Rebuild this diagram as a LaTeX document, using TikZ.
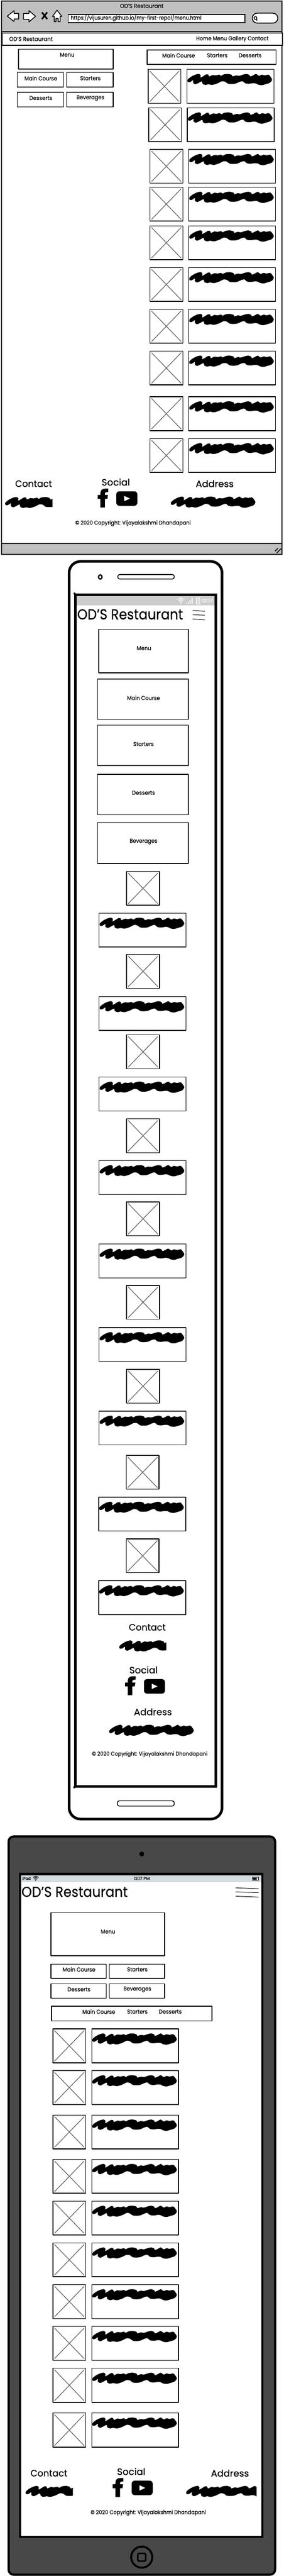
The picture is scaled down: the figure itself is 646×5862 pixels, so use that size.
\documentclass[tikz,border=0pt]{standalone}
\usepackage{graphicx}
\usepackage{fontspec}
\setmainfont{Poppins}[FakeBold=0.3]
\definecolor{chrome}{HTML}{C0C0C0}
\definecolor{xgrey}{HTML}{666666}
\definecolor{phonebar}{HTML}{CCCCCC}
\definecolor{padbar}{HTML}{D5DCDF}
\definecolor{padbody}{HTML}{484848}
\tikzset{
  x=1pt,y=-1pt,
  boxline/.style={draw=black,line width=1.7pt,fill=white,line join=round},
  thinbox/.style={draw=black,line width=1.3pt,fill=white,line join=round},
  xline/.style={draw=xgrey,line width=1.5pt,line cap=round},
  txtnode/.style={inner sep=0pt,outer sep=0pt,anchor=center},
  burger/.style={draw=black,line width=1.2pt,line cap=round},
  iconline/.style={draw=black,line width=1.8pt,fill=white,line join=round}
}
% text: name, cx, cy, width, font size, text
\newcommand{\TX}[6]{\node[txtnode] (#1) at (#2,#3) {\resizebox{#4pt}{\height}{\fontsize{#5pt}{#5pt}\selectfont #6}};}
\newcommand{\ScribShape}{\fill[black] plot[smooth cycle,tension=.55] coordinates {
 (22,95)(45,75)(75,60)(100,55)(112,65)(110,80)(130,70)(150,58)(165,60)(170,72)(195,62)(215,65)(240,60)(250,68)(270,58)(300,55)(325,62)(330,72)(355,65)(375,68)(400,60)(425,55)(445,62)(450,72)(470,65)(490,55)(510,68)(530,60)(550,65)(575,60)(590,75)(600,95)(585,115)(555,125)(530,132)(505,128)(490,120)(470,118)(440,122)(415,118)(400,105)(380,108)(345,122)(300,122)(280,108)(255,105)(230,118)(190,130)(165,125)(145,130)(125,122)(120,105)(100,115)(75,125)(60,115)(60,98)(40,110)(25,110)};}
\newcommand{\Scrib}[2]{\begin{scope}[shift={(#1,#2)},xscale=.3333,yscale=.3333,shift={(-22,-55)}]\ScribShape\end{scope}}
\newcommand{\ImgBox}[4]{\begin{scope}[shift={(#1,#2)}]
 \draw[boxline] (0,0) rectangle (#3,#4);
 \draw[xline] (4,4) -- (#3-4,#4-4);
 \draw[xline] (#3-4,4) -- (4,#4-4);
\end{scope}}
\newcommand{\TxtBox}[4]{\draw[boxline] (#1,#2) rectangle ++(#3,#4);\Scrib{#1+1.3}{#2+10.3}}
\newcommand{\FaceF}[2]{\begin{scope}[shift={(#1,#2)}]
 \fill[black] (6.2,43) -- (6.2,23.3) -- (0,23.3) -- (0,14.3) -- (6.2,14.3) -- (6.2,10) .. controls (6.2,3) and (11,0) .. (17,0) -- (24,0) -- (24,8) -- (20,8) .. controls (17,8) and (16.5,9.5) .. (16.5,12) -- (16.5,14.3) -- (23.5,14.3) -- (22,23.3) -- (16.5,23.3) -- (16.5,43) -- cycle;
\end{scope}}
\newcommand{\YouT}[2]{\begin{scope}[shift={(#1,#2)}]
 \fill[black,rounded corners=7pt] (0,0) rectangle (48,33);
 \fill[white] (18,10.5) -- (31,16.5) -- (18,22.5) -- cycle;
\end{scope}}
\newcommand{\Wifi}[5]{\begin{scope}[shift={(#1,#2)}]
 \fill[#4] (0,0) circle (#5*1pt);
 \foreach \r in {.36,.68,1}{\draw[#4,line width=#5*1pt] (-\r*#3,-\r*#3) .. controls (0,-\r*#3*1.6) .. (\r*#3,-\r*#3);}
\end{scope}}
\begin{document}
\begin{tikzpicture}
\useasboundingbox (0,0) rectangle (646,5862);
\fill[white] (0,0) rectangle (646,5862);

%%%%%%%% DESKTOP BROWSER %%%%%%%%
\draw[draw=black,line width=2.4pt,fill=white] (3,2.5) rectangle (643,1261);
\draw[draw=black,line width=2.4pt,fill=chrome] (3,2.5) rectangle (643,72);
\draw[draw=black,line width=2.4pt,fill=chrome] (3,1237) rectangle (643,1261);
\draw[black,line width=2pt,line cap=round] (627,1254) -- (633,1248) (631,1258) -- (640,1249);
\TX{bTitle}{323}{13.5}{99}{13}{OD'S Restaurant}
\draw[iconline] (16.5,36.7) -- (32,24.3) -- (32,30.7) -- (42.5,30.7) -- (42.5,43.3) -- (32,43.3) -- (32,49) -- cycle;
\draw[iconline] (81,37) -- (66,24.3) -- (66,30.7) -- (53.6,30.7) -- (53.6,44) -- (66,44) -- (66,50) -- cycle;
\draw[black,line width=3.6pt] (95.5,28) -- (107.5,43.5) (107.5,28) -- (95.5,43.5);
\draw[iconline] (130,23.3) -- (119.5,37.3) -- (123.7,37.3) -- (123.7,49.3) -- (127.5,49.3) -- (127.5,42) -- (132.5,42) -- (132.5,49.3) -- (137,49.3) -- (137,37.3) -- (141,37.3) -- cycle;
\draw[draw=black,line width=2pt,fill=white] (155.5,32.5) rectangle (558,51.5);
\TX{bUrl}{310}{40.5}{298}{13}{https://vijusuren.github.io/my-first-repo1/menu.html}
\draw[draw=black,line width=2pt,fill=white,rounded corners=11pt] (575,30) rectangle (633,52.5);
\draw[black,line width=1.8pt] (582,41) circle (3.3pt);
\draw[black,line width=2pt] (584.3,44) -- (586,47);
\draw[draw=black,line width=2pt,fill=white] (4.5,75) rectangle (644,103);
\TX{bBrand}{70.5}{88.7}{99}{13}{OD'S Restaurant}
\TX{bNav}{529.5}{88.7}{165}{13}{Home Menu Gallery Contact}

\draw[boxline] (42,112) rectangle (258,157);
\TX{dMenu}{153}{124.5}{33}{13}{Menu}
\draw[boxline] (39,165) rectangle (145,198);
\TX{dMain}{93}{178}{74.6}{13}{Main Course}
\draw[boxline] (152,165) rectangle (258,198);
\TX{dStart}{206}{178}{46.6}{13}{Starters}
\draw[boxline] (39,210) rectangle (145,243);
\TX{dDess}{93}{223}{52.4}{13}{Desserts}
\draw[boxline] (152,210) rectangle (258,243);
\TX{dBev}{206}{223}{63}{13}{Beverages}
\draw[boxline] (335.5,113.5) rectangle (629,146.5);
\TX{dTabA}{407}{126}{74.6}{13}{Main Course}
\TX{dTabB}{495}{126}{46.6}{13}{Starters}
\TX{dTabC}{570}{126}{52.4}{13}{Desserts}

\ImgBox{337.5}{158}{74.5}{77}\TxtBox{426}{158}{198}{77}
\ImgBox{339}{245.5}{74.5}{77}\TxtBox{427}{245.5}{198}{77}
\foreach \ry in {340,426,514,609,704,799,903,998}{
  \ImgBox{341.5}{\ry}{75}{77}\TxtBox{430}{\ry}{198}{77}
}
\TX{dCont}{76.6}{1100.7}{84}{21}{Contact}
\begin{scope}\clip (10,1125) rectangle (119.5,1162);\Scrib{12}{1131}\end{scope}
\TX{dSoc}{263.8}{1097}{64.5}{21}{Social}
\FaceF{222.6}{1112}
\YouT{265}{1118}
\TX{dAddr}{489.3}{1100.7}{86.6}{21}{Address}
\Scrib{389.5}{1130}
\TX{dCopy}{303}{1190.7}{263}{12.5}{© 2020 Copyright: Vijayalakshmi Dhandapani}

%%%%%%%% PHONE %%%%%%%%
\draw[draw=black,line width=6pt,fill=white,rounded corners=26pt] (157.5,1277.5) rectangle (506,4139.5);
\draw[draw=black,line width=1.8pt,fill=white,rounded corners=4pt] (268.5,1307.5) rectangle (397,1317.5);
\draw[black,line width=3pt] (228.5,1313) ellipse (4pt and 4.8pt);
\draw[draw=black,line width=6.5pt,fill=white] (171.5,1353.5) rectangle (492,4065.5);
\fill[black] (170,1351) circle (2.6pt) (169.5,4067) circle (2.6pt);
\fill[phonebar] (175,1357) rectangle (489,1377);
\Wifi{412}{1372.5}{8}{white}{1.4}
\fill[white] (424,1372) rectangle (426,1374) (428,1370) rectangle (430,1374) (432,1366) rectangle (434.2,1374) (436.5,1361) rectangle (439,1374);
\draw[white,line width=1.2pt,fill=phonebar!70!white] (447,1361) rectangle (455,1375);
\TX{pTime}{472.5}{1366.7}{25}{11}{\textcolor{white}{12:17}}
\TX{pTitle}{296.5}{1398}{241}{33}{OD'S Restaurant}
\draw[burger] (439.5,1389) -- (466.5,1391);
\draw[burger] (439.5,1399) -- (466.5,1400);
\draw[burger] (439.5,1408.5) -- (466.5,1410.5);

\draw[boxline] (225,1432) rectangle (429,1531);
\TX{pMenu}{328}{1475}{33}{13}{Menu}
\draw[boxline] (222,1545) rectangle (429,1637);
\TX{pMain}{327}{1588}{74.6}{13}{Main Course}
\draw[boxline] (222,1650) rectangle (429,1742);
\TX{pStart}{327}{1693}{46.6}{13}{Starters}
\draw[boxline] (222,1762) rectangle (429,1854);
\TX{pDess}{327}{1804}{52.4}{13}{Desserts}
\draw[boxline] (222,1872) rectangle (429,1965);
\TX{pBev}{327}{1915}{63}{13}{Beverages}
\foreach \iy/\ty in {1983/2078,2172/2268,2355/2451,2546/2641,2735/2831,2925/3021,3116/3211}{
  \ImgBox{288.5}{\iy}{75}{77}\TxtBox{226}{\ty}{198}{77}
}
\foreach \iy/\ty in {3312/3407,3502/3597}{
  \ImgBox{287.5}{\iy}{75}{77}\TxtBox{225}{\ty}{198}{77}
}
\TX{pCont}{335.5}{3703}{84}{21}{Contact}
\begin{scope}\clip (270,3725) rectangle (379,3765);\Scrib{272}{3733}\end{scope}
\TX{pSoc}{327}{3800}{64.5}{21}{Social}
\FaceF{285}{3814.5}
\YouT{328}{3821}
\TX{pAddr}{348.5}{3895.5}{86.6}{21}{Address}
\Scrib{249}{3925}
\TX{pCopy}{341}{3992}{263}{12.5}{© 2020 Copyright: Vijayalakshmi Dhandapani}
\draw[draw=black,line width=1.8pt,fill=white,rounded corners=4.5pt] (267.5,4098) rectangle (397,4110);

%%%%%%%% TABLET %%%%%%%%
\draw[draw=black,line width=5pt,fill=padbody,rounded corners=12pt] (19.5,4179) rectangle (627,5859);
\fill[black] (323,4219) circle (5.5pt);
\fill[black] (43,4262) rectangle (600,5775);
\fill[white] (48,4267) rectangle (595,5770);
\fill[padbar] (48,4267) rectangle (595,4283);
\TX{tCarrier}{60.5}{4274.5}{19}{9}{iPad}
\Wifi{81.5}{4279}{6.5}{black}{1.3}
\TX{tClock}{323}{4274.5}{37}{9}{12:17 PM}
\draw[black,line width=1pt] (575,4271.5) rectangle (588.5,4279);
\fill[black] (577,4273) rectangle (585,4277.5) (589,4274) rectangle (590,4276.5);
\TX{tTitle}{170}{4305}{242}{33}{OD'S Restaurant}
\draw[burger] (537.5,4296) -- (589,4298);
\draw[burger] (537.5,4305) -- (589,4307);
\draw[burger] (537.5,4315) -- (589,4317);

\draw[boxline] (116,4352.5) rectangle (375,4450.5);
\TX{tMenu}{246}{4395.5}{33}{13}{Menu}
\draw[boxline] (116,4469.5) rectangle (242,4502);
\TX{tMain}{180}{4481.5}{74.6}{13}{Main Course}
\draw[boxline] (249,4469.5) rectangle (375,4502);
\TX{tStart}{313}{4481.5}{46.6}{13}{Starters}
\draw[boxline] (116,4514.5) rectangle (242,4547);
\TX{tDess}{180}{4527}{52.4}{13}{Desserts}
\draw[boxline] (249,4514.5) rectangle (375,4547);
\TX{tBev}{313}{4527}{63}{13}{Beverages}
\draw[boxline] (117.5,4565.5) rectangle (483,4598.5);
\TX{tTabA}{225}{4577.6}{74.6}{13}{Main Course}
\TX{tTabB}{313}{4577.6}{46.6}{13}{Starters}
\TX{tTabC}{388}{4577.6}{52.4}{13}{Desserts}
\foreach \ry in {4617,4712,4813,4914,5009,5104,5199,5294}{
  \ImgBox{120.5}{\ry}{75}{77}\TxtBox{209}{\ry}{198}{77}
}
\foreach \ry in {5389,5491}{
  \ImgBox{120.5}{\ry}{75}{78}\TxtBox{209}{\ry}{198}{78}
}
\TX{tCont}{111.5}{5628}{84}{21}{Contact}
\begin{scope}\clip (56,5650) rectangle (166,5690);\Scrib{58.5}{5657}\end{scope}
\TX{tSoc}{299}{5624}{64.5}{21}{Social}
\FaceF{257}{5639}
\YouT{300}{5645}
\TX{tAddr}{524}{5628}{86.6}{21}{Address}
\begin{scope}\clip (420,5650) rectangle (584.5,5690);\Scrib{424.5}{5657}\end{scope}
\TX{tCopy}{338}{5718}{263}{12.5}{© 2020 Copyright: Vijayalakshmi Dhandapani}
\draw[black,line width=4.5pt] (323,5819) circle (24pt);
\draw[black,line width=3.5pt,rounded corners=3pt] (314,5810.5) rectangle (332,5828);
\end{tikzpicture}
\end{document}
